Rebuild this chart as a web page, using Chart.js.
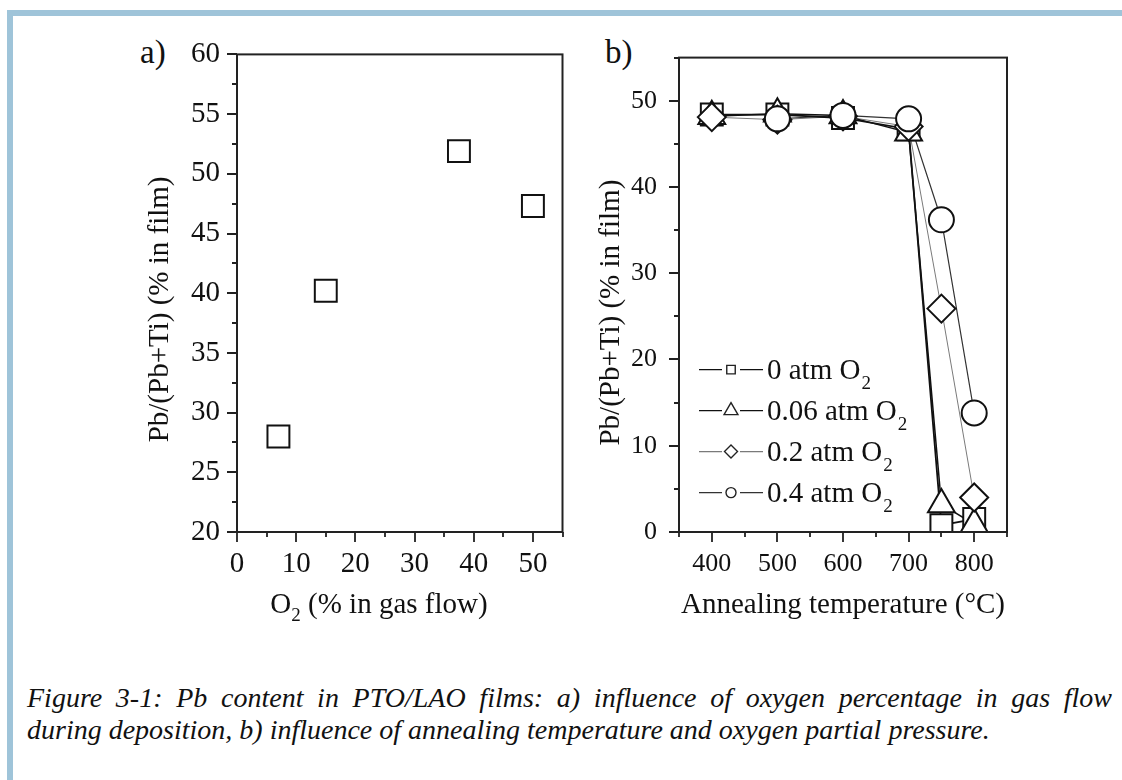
<!DOCTYPE html>
<html>
<head>
<meta charset="utf-8">
<script src="https://cdn.jsdelivr.net/npm/chart.js@4.4.1/dist/chart.umd.min.js"></script>
<style>
  body { margin: 0; background: #fff; width: 1122px; height: 780px; position: relative; overflow: hidden; font-family: "Liberation Serif", serif; color: #111; }
  .bar { position: absolute; background: #9fc4d9; }
  .box { position: absolute; }
  .tag { position: absolute; font-size: 33px; line-height: 33px; }
  #caption { position: absolute; left: 27px; top: 682px; width: 1085px; font-style: italic; font-size: 28px; line-height: 32px; }
  #caption .l1 { text-align: justify; text-align-last: justify; }
</style>
</head>
<body>
<div class="bar" style="left:7px;top:10px;width:1115px;height:6px"></div>
<div class="bar" style="left:7px;top:10px;width:6px;height:770px"></div>
<div class="tag" style="left:140px;top:36px">a)</div>
<div class="tag" style="left:605px;top:36px">b)</div>
<div class="box" style="left:120px;top:30px;width:460px;height:600px"><canvas id="chartA"></canvas></div>
<div class="box" style="left:590px;top:30px;width:440px;height:600px"><canvas id="chartB"></canvas></div>
<div id="caption">
  <div class="l1">Figure 3-1: Pb content in PTO/LAO films: a) influence of oxygen percentage in gas flow</div>
  <div>during deposition, b) influence of annealing temperature and oxygen partial pressure.</div>
</div>
<script>
// a) Pb content vs O2 in gas flow
const o2Flow = [7, 15, 37.5, 50];
const pbVsFlow = [28, 40.2, 51.9, 47.3];

// b) Pb content vs annealing temperature
const annealTemps = [400, 500, 600, 700, 750, 800];
const pb0atm = [48.4, 48.4, 48.0, 46.7, 0.8, 1.5];
const pb006atm = [48.2, 48.5, 48.3, 46.3, 3.2, 0.9];
const pb02atm = [48.1, 47.8, 48.2, 47.0, 25.9, 4.0];
const pb04atm = [null, 47.9, 48.3, 47.9, 36.2, 13.8];
const pressureLabels = ['0 atm O', '0.06 atm O', '0.2 atm O', '0.4 atm O'];

const serif = 'Liberation Serif';

// frame + major/minor tick marks, drawn from the scales' own ticks
const frameTicks = {
  id: 'frameTicks',
  afterDraw(chart) {
    const ctx = chart.ctx, a = chart.chartArea;
    const xs = chart.scales.x, ys = chart.scales.y;
    ctx.save();
    ctx.strokeStyle = '#222';
    ctx.lineWidth = 2;
    ctx.strokeRect(a.left, a.top, a.right - a.left, a.bottom - a.top);
    ctx.lineWidth = 1.8;
    ctx.beginPath();
    xs.ticks.forEach(t => {
      const px = Math.round(xs.getPixelForValue(t.value));
      ctx.moveTo(px, a.bottom);
      ctx.lineTo(px, a.bottom + (t.label !== '' ? 10 : 5));
    });
    ys.ticks.forEach(t => {
      const py = Math.round(ys.getPixelForValue(t.value));
      ctx.moveTo(a.left, py);
      ctx.lineTo(a.left - (t.label !== '' ? 10 : 5), py);
    });
    ctx.stroke();
    ctx.restore();
  }
};

// axis titles with subscripts, placed relative to the chart area
function drawRich(ctx, parts, cx, cy, rot) {
  ctx.save();
  ctx.translate(cx, cy);
  ctx.rotate(rot);
  ctx.fillStyle = '#111';
  ctx.textBaseline = 'middle';
  let total = 0;
  parts.forEach(p => { ctx.font = (p.sub ? 19 : 29) + 'px "' + serif + '"'; total += ctx.measureText(p.t).width; });
  let x = -total / 2;
  parts.forEach(p => {
    ctx.font = (p.sub ? 19 : 29) + 'px "' + serif + '"';
    ctx.fillText(p.t, x, p.sub ? 11 : 0);
    x += ctx.measureText(p.t).width;
  });
  ctx.restore();
}
const axisTitles = {
  id: 'axisTitles',
  afterDraw(chart, args, opts) {
    const a = chart.chartArea;
    drawRich(chart.ctx, opts.x, a.left + opts.xdx, a.bottom + 73, 0);
    drawRich(chart.ctx, opts.y, a.left + opts.ydx, a.top + 255, -Math.PI / 2);
  }
};

function axis(min, max, step, major, opt) {
  return {
    type: 'linear',
    min: min, max: max,
    grid: { drawOnChartArea: false, drawTicks: true, tickLength: 10, color: 'rgba(0,0,0,0)' },
    border: { display: false },
    ticks: {
      stepSize: step, autoSkip: false, maxRotation: 0,
      padding: opt.tickPad,
      color: '#111', font: { family: serif, size: opt.tickSize },
      callback: v => (Math.abs(v % major) < 1e-9 ? v : '')
    },
    title: { display: false },
    afterFit: s => { if (opt.horizontal) s.height = opt.fit; else s.width = opt.fit; }
  };
}

const yTitle = [{ t: 'Pb/(Pb+Ti) (% in film)' }];

new Chart(document.getElementById('chartA'), {
  type: 'scatter',
  data: {
    datasets: [{
      data: o2Flow.map((x, i) => ({ x: x, y: pbVsFlow[i] })),
      pointStyle: 'rect', pointRadius: 15.5, pointBorderWidth: 2,
      pointBorderColor: '#111', pointBackgroundColor: '#fff'
    }]
  },
  options: {
    responsive: true, maintainAspectRatio: false, animation: false, events: [],
    layout: { padding: { top: 24, right: 17, bottom: 0, left: 0 } },
    plugins: {
      legend: { display: false }, tooltip: { enabled: false },
      axisTitles: { x: [{ t: 'O' }, { t: '2', sub: true }, { t: ' (% in gas flow)' }], xdx: 142, y: yTitle, ydx: -77 }
    },
    scales: {
      x: axis(0, 55, 5, 10, { horizontal: true, fit: 98, tickPad: 5, tickSize: 29 }),
      y: axis(20, 60, 2.5, 5, { horizontal: false, fit: 117, tickPad: 7, tickSize: 29 })
    }
  },
  plugins: [frameTicks, axisTitles]
});

const seriesB = [
  { label: pressureLabels[0], data: pb0atm, style: 'rect', r: 15.5, lr: 6, line: '#111', lw: 1.8 },
  { label: pressureLabels[1], data: pb006atm, style: 'triangle', r: 15.5, lr: 8, line: '#111', lw: 1.5 },
  { label: pressureLabels[2], data: pb02atm, style: 'rectRot', r: 14, lr: 6.5, line: '#7a7a7a', lw: 1 },
  { label: pressureLabels[3], data: pb04atm, style: 'circle', r: 12.5, lr: 5, line: '#333', lw: 1.2 }
];

const datasetsB = [];
seriesB.forEach((s, i) => {
  const pts = annealTemps.map((t, j) => ({ x: t, y: s.data[j] }));
  datasetsB.push({ data: pts, showLine: true, spanGaps: true, pointRadius: 0,
    borderColor: s.line, borderWidth: s.lw, order: 10 + i });
  datasetsB.push({ data: pts, showLine: false, pointStyle: s.style, pointRadius: s.r,
    pointBorderWidth: 2, pointBorderColor: '#111', pointBackgroundColor: '#fff', order: 4 - i });
});

// legend: line - marker - line, label with subscript 2
const lineLegend = {
  id: 'lineLegend',
  afterDraw(chart) {
    const ctx = chart.ctx, a = chart.chartArea;
    ctx.save();
    seriesB.forEach((s, i) => {
      const y = a.top + 312 + 41 * i;
      const x0 = a.left;
      ctx.strokeStyle = s.line;
      ctx.lineWidth = 1.3;
      ctx.beginPath();
      ctx.moveTo(x0 + 20, y); ctx.lineTo(x0 + 43, y);
      ctx.moveTo(x0 + 61, y); ctx.lineTo(x0 + 84, y);
      ctx.stroke();
      ctx.fillStyle = '#fff';
      ctx.strokeStyle = '#222';
      ctx.lineWidth = 1.4;
      Chart.helpers.drawPoint(ctx, { pointStyle: s.style, radius: s.lr, rotation: 0, borderWidth: 1.4 }, x0 + 52, y);
      ctx.fillStyle = '#111';
      ctx.textBaseline = 'middle';
      ctx.font = '29px "' + serif + '"';
      ctx.fillText(s.label, x0 + 88, y + 2);
      const w = ctx.measureText(s.label).width;
      ctx.font = '19px "' + serif + '"';
      ctx.fillText('2', x0 + 88 + w + 1, y + 14);
    });
    ctx.restore();
  }
};

new Chart(document.getElementById('chartB'), {
  type: 'scatter',
  data: { datasets: datasetsB },
  options: {
    responsive: true, maintainAspectRatio: false, animation: false, events: [],
    layout: { padding: { top: 24, right: 23, bottom: 0, left: 0 } },
    plugins: {
      legend: { display: false }, tooltip: { enabled: false },
      axisTitles: { x: [{ t: 'Annealing temperature (\u00B0C)' }], xdx: 164, y: yTitle, ydx: -68 }
    },
    scales: {
      x: axis(350, 850, 50, 100, { horizontal: true, fit: 98, tickPad: 7, tickSize: 26 }),
      y: axis(0, 55, 5, 10, { horizontal: false, fit: 89, tickPad: 12, tickSize: 26 })
    }
  },
  plugins: [frameTicks, axisTitles, lineLegend]
});
</script>
</body>
</html>
